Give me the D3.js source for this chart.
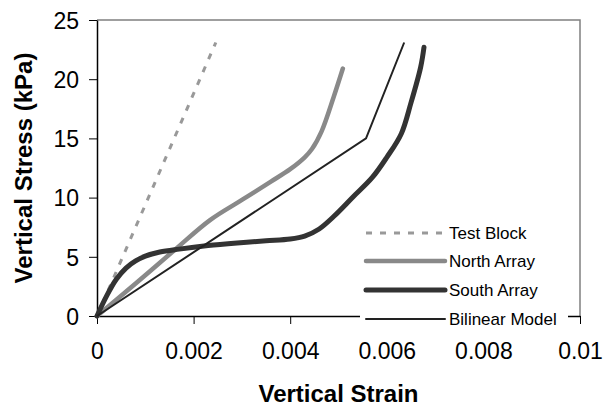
<!DOCTYPE html>
<html>
<head>
<meta charset="utf-8">
<script src="https://cdn.jsdelivr.net/npm/d3@7"></script>
<style>
  body { margin: 0; background: #fff; }
  text { font-family: "Liberation Sans", Arial, sans-serif; }
</style>
</head>
<body>
<div id="container"></div>
<script>
  // data: [strain, stress kPa]
  const seriesNames = ['Test Block', 'North Array', 'South Array', 'Bilinear Model']
  const testBlock = [[0, 0], [0.00246, 23.1]]
  const northArray = [[0, 0], [0.0008, 2.75], [0.0016, 5.55], [0.00234, 8.1], [0.003, 9.8],
    [0.0036, 11.35], [0.004, 12.4], [0.0043, 13.4], [0.00445, 14.1], [0.00465, 15.6],
    [0.0049, 18.5], [0.00509, 20.9]]
  const southArray = [[0, 0], [0.0002, 1.7], [0.0004, 3.1], [0.0006, 4.05], [0.0008, 4.65],
    [0.001, 5.05], [0.0013, 5.4], [0.0017, 5.65], [0.0023, 5.95], [0.0029, 6.17], [0.0035, 6.35],
    [0.004, 6.5], [0.0043, 6.75], [0.0046, 7.35], [0.0049, 8.4], [0.0053, 10.05], [0.0057, 11.7],
    [0.006, 13.4], [0.0063, 15.4], [0.0065, 18.0], [0.0067, 21.0], [0.00677, 22.7]]
  const bilinear = [[0, 0], [0.00557, 15.0], [0.00636, 23.1]]
  const xTicks = [0, 0.002, 0.004, 0.006, 0.008, 0.01]
  const yTicks = [0, 5, 10, 15, 20, 25]

  const width = 605
  const height = 406
  const plotLeft = 97, plotRight = 580, plotTop = 20, plotBottom = 316

  const svg = d3.select('#container')
    .append('svg')
    .attr('width', width)
    .attr('height', height)

  const xScale = d3.scaleLinear().domain([0, 0.01]).range([plotLeft, plotRight])
  const yScale = d3.scaleLinear().domain([0, 25]).range([plotBottom, plotTop])

  // grey frame on top and right
  svg.append('path')
    .attr('d', `M${plotLeft},${plotTop}H${plotRight}V${plotBottom}`)
    .attr('fill', 'none')
    .attr('stroke', '#808080')
    .attr('stroke-width', 1.5)

  const xAxis = svg.append('g')
    .attr('transform', `translate(0, ${plotBottom})`)
    .call(d3.axisBottom(xScale).tickValues(xTicks).tickSize(8).tickSizeOuter(0)
      .tickFormat(d => d === 0 ? '0' : String(+d.toFixed(3))))
  xAxis.select('.domain').attr('stroke', '#000').attr('stroke-width', 1.5)
  xAxis.selectAll('.tick line').attr('stroke', '#000')
  xAxis.selectAll('.tick text')
    .attr('y', 0).attr('dy', 0)
    .attr('transform', 'translate(0, 43)')
    .attr('font-size', 23)
    .attr('font-family', '"Liberation Sans", Arial, sans-serif')
    .attr('fill', '#000')

  const yAxis = svg.append('g')
    .attr('transform', `translate(${plotLeft}, 0)`)
    .call(d3.axisLeft(yScale).tickValues(yTicks).tickSize(8).tickSizeOuter(0))
  yAxis.select('.domain').attr('stroke', '#000').attr('stroke-width', 1.5)
  yAxis.selectAll('.tick line').attr('stroke', '#000')
  yAxis.selectAll('.tick text')
    .attr('x', -18)
    .attr('dy', '0.36em')
    .attr('font-size', 23)
    .attr('font-family', '"Liberation Sans", Arial, sans-serif')
    .attr('fill', '#000')

  const line = d3.line()
    .x(d => xScale(d[0]))
    .y(d => yScale(d[1]))
  const smooth = d3.line()
    .x(d => xScale(d[0]))
    .y(d => yScale(d[1]))
    .curve(d3.curveCatmullRom.alpha(0.5))

  const styles = [
    { stroke: '#999999', width: 3, dash: '6,8' },
    { stroke: '#898989', width: 4.5, dash: null },
    { stroke: '#333333', width: 5, dash: null },
    { stroke: '#222222', width: 2, dash: null }
  ]

  svg.append('path').datum(testBlock)
    .attr('d', line)
    .attr('fill', 'none')
    .attr('stroke', styles[0].stroke)
    .attr('stroke-width', styles[0].width)
    .attr('stroke-dasharray', styles[0].dash)

  svg.append('path').datum(northArray)
    .attr('d', smooth)
    .attr('fill', 'none')
    .attr('stroke', styles[1].stroke)
    .attr('stroke-width', styles[1].width)
    .attr('stroke-linecap', 'round')

  svg.append('path').datum(southArray)
    .attr('d', smooth)
    .attr('fill', 'none')
    .attr('stroke', styles[2].stroke)
    .attr('stroke-width', styles[2].width)
    .attr('stroke-linecap', 'round')

  svg.append('path').datum(bilinear)
    .attr('d', line)
    .attr('fill', 'none')
    .attr('stroke', styles[3].stroke)
    .attr('stroke-width', styles[3].width)

  // legend, white box that hides part of the x axis
  const legend = svg.append('g')
  legend.append('rect')
    .attr('x', 360).attr('y', 222)
    .attr('width', 208).attr('height', 106)
    .attr('fill', '#fff')

  const legendY = [233, 261, 290, 319]
  seriesNames.forEach((name, i) => {
    legend.append('line')
      .attr('x1', 366).attr('x2', 445)
      .attr('y1', legendY[i]).attr('y2', legendY[i])
      .attr('stroke', styles[i].stroke)
      .attr('stroke-width', i === 0 ? 3 : styles[i].width)
      .attr('stroke-dasharray', styles[i].dash)
      .attr('stroke-linecap', i === 0 ? null : 'round')
    legend.append('text')
      .attr('x', 449)
      .attr('y', legendY[i] + 6)
      .attr('font-size', 17)
      .text(name)
  })

  svg.append('text')
    .attr('x', (plotLeft + plotRight) / 2)
    .attr('y', 402)
    .attr('text-anchor', 'middle')
    .attr('font-size', 24)
    .attr('font-weight', 'bold')
    .text('Vertical Strain')

  svg.append('text')
    .attr('transform', `translate(32, ${(plotTop + plotBottom) / 2}) rotate(-90)`)
    .attr('text-anchor', 'middle')
    .attr('font-size', 24)
    .attr('font-weight', 'bold')
    .text('Vertical Stress (kPa)')
</script>
</body>
</html>
